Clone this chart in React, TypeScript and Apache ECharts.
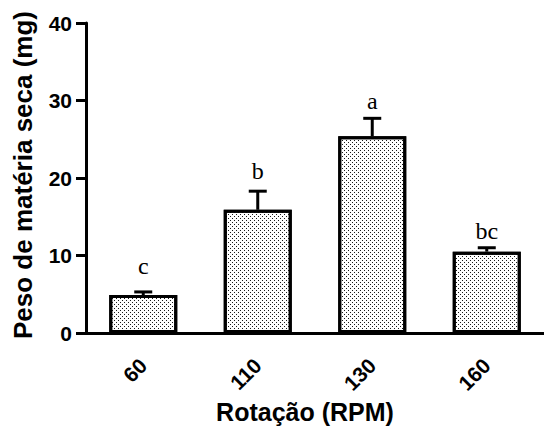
import React, { useEffect, useRef } from "react";
import * as echarts from "echarts";

const categories = ["60", "110", "130", "160"];
const means = [4.9, 15.9, 25.4, 10.5];
const errors = [0.4, 2.4, 2.3, 0.5];
const letters = ["c", "b", "a", "bc"];
const letterY = [7.7, 20.0, 29.0, 12.3];
const yTicks = [0, 10, 20, 30, 40];

export default function App() {
  const ref = useRef<HTMLDivElement>(null);
  useEffect(() => {
    if (!ref.current) return;
    const chart = echarts.init(ref.current, null, { renderer: "svg" });
    const errData = means.map((m, i) => [i, m, m + errors[i], letterY[i]]);
    chart.setOption({
      animation: false,
      backgroundColor: "#fff",
      grid: { left: 86, top: 23, width: 468, height: 310, containLabel: false },
      xAxis: {
        type: "category",
        data: categories,
        axisLine: { lineStyle: { color: "#000", width: 3 } },
        axisTick: { alignWithLabel: true, length: 11, lineStyle: { color: "#000", width: 3 } },
        axisLabel: {
          rotate: 45,
          margin: 29,
          color: "#000",
          fontFamily: "Liberation Sans",
          fontWeight: "bold",
          fontSize: 21,
        },
      },
      yAxis: {
        type: "value",
        min: yTicks[0],
        max: yTicks[yTicks.length - 1],
        interval: 10,
        name: "Peso de matéria seca (mg)",
        nameLocation: "middle",
        nameGap: 50,
        nameTextStyle: {
          color: "#000",
          fontFamily: "Liberation Sans",
          fontWeight: "bold",
          fontSize: 26,
          padding: [0, 0, 0, 6],
        },
        splitLine: { show: false },
        axisLine: { show: true, lineStyle: { color: "#000", width: 3 } },
        axisTick: { show: true, length: 10, lineStyle: { color: "#000", width: 3 } },
        axisLabel: {
          margin: 14,
          color: "#000",
          fontFamily: "Liberation Sans",
          fontWeight: "bold",
          fontSize: 21,
        },
      },
      graphic: [
        {
          type: "text",
          x: 305,
          y: 412,
          style: {
            text: "Rotação (RPM)",
            fill: "#000",
            font: "bold 25px 'Liberation Sans'",
            align: "center",
            verticalAlign: "middle",
          },
        },
      ],
      series: [
        {
          type: "bar",
          data: means,
          barWidth: 68,
          itemStyle: {
            color: "#fff",
            borderColor: "#000",
            borderWidth: 3,
            decal: {
              symbol: "rect",
              symbolSize: 1,
              color: "rgba(0,0,0,0.9)",
              backgroundColor: "#fff",
              dashArrayX: [[1, 3], [0, 2, 1, 1]],
              dashArrayY: [1, 1],
              rotation: 0,
            },
          },
          z: 2,
        },
        {
          type: "custom",
          data: errData,
          z: 3,
          renderItem: (params: any, api: any) => {
            const x = api.value(0);
            const m = api.value(1);
            const hi = api.value(2);
            const ly = api.value(3);
            const top = api.coord([x, hi]);
            const base = api.coord([x, m]);
            const lab = api.coord([x, ly]);
            return {
              type: "group",
              children: [
                {
                  type: "line",
                  shape: { x1: top[0], y1: base[1], x2: top[0], y2: top[1] },
                  style: { stroke: "#000", lineWidth: 3 },
                },
                {
                  type: "line",
                  shape: { x1: top[0] - 9, y1: top[1], x2: top[0] + 9, y2: top[1] },
                  style: { stroke: "#000", lineWidth: 3 },
                },
                {
                  type: "text",
                  x: lab[0],
                  y: lab[1] + 5,
                  style: {
                    text: letters[params.dataIndex],
                    fill: "#000",
                    font: "24px 'Liberation Serif'",
                    align: "center",
                    verticalAlign: "bottom",
                  },
                },
              ],
            };
          },
        },
      ],
    });
    return () => chart.dispose();
  }, []);
  return (
    <div
      ref={ref}
      style={{ position: "fixed", left: 0, top: 0, width: 544, height: 428 }}
    />
  );
}
